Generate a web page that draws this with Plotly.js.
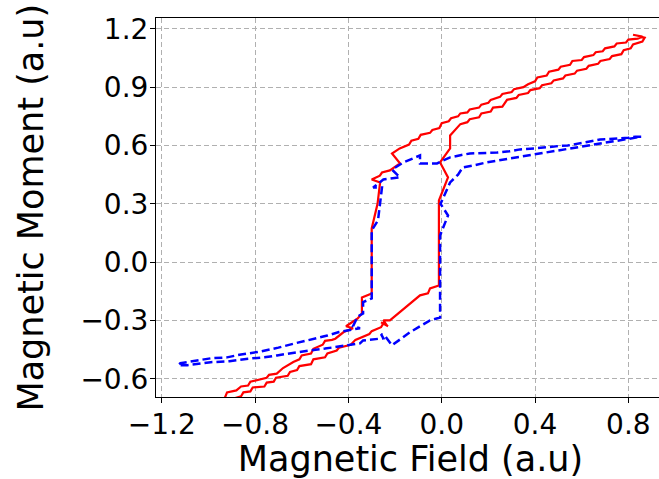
<!DOCTYPE html>
<html><head><meta charset="utf-8">
<script src="https://cdn.plot.ly/plotly-3.0.1.min.js"></script>
<style>html,body{margin:0;padding:0;overflow:hidden;background:#fff}#chart{width:670px;height:479px}</style>
</head><body><div id="chart"></div><script>
// Red (solid) loop: descending branch then ascending branch
const redX = [0.82,0.86,0.84,0.80,0.79,0.75,0.74,0.70,0.69,0.66,0.65,0.61,0.60,0.56,0.55,0.51,0.50,0.46,0.45,0.41,0.40,0.37,0.35,0.31,0.30,0.26,0.25,0.21,0.20,0.17,0.16,0.12,0.11,0.08,0.07,0.04,0.03,0.00,-0.01,-0.04,-0.05,-0.09,-0.10,-0.13,-0.14,-0.18,-0.213,-0.179,-0.222,-0.256,-0.265,-0.30,-0.264,-0.275,-0.30,-0.30,-0.342,-0.342,-0.36,-0.393,-0.41,-0.38,-0.42,-0.456,-0.47,-0.50,-0.51,-0.55,-0.56,-0.60,-0.61,-0.636,-0.66,-0.68,-0.707,-0.74,-0.75,-0.793,-0.82,-0.83,-0.86,-0.88,-0.92,-0.93,-0.97,-1.00,
  -0.97,-0.90,-0.86,-0.85,-0.82,-0.81,-0.76,-0.75,-0.72,-0.71,-0.66,-0.65,-0.62,-0.61,-0.56,-0.55,-0.50,-0.49,-0.45,-0.44,-0.39,-0.37,-0.31,-0.30,-0.26,-0.25,-0.23,-0.26,-0.235,-0.25,-0.222,-0.093,-0.07,-0.059,-0.05,-0.012,-0.012,0.027,-0.007,0.036,0.036,0.07,0.08,0.11,0.12,0.16,0.17,0.21,0.22,0.26,0.28,0.32,0.33,0.37,0.38,0.42,0.43,0.47,0.48,0.52,0.53,0.57,0.58,0.62,0.63,0.67,0.68,0.72,0.73,0.77,0.78,0.81,0.82,0.86,0.87,0.84];
const redY = [1.17,1.16,1.15,1.145,1.13,1.125,1.11,1.10,1.085,1.08,1.065,1.055,1.04,1.035,1.015,1.005,0.99,0.98,0.96,0.95,0.93,0.915,0.90,0.89,0.875,0.865,0.85,0.835,0.82,0.81,0.795,0.785,0.77,0.765,0.75,0.74,0.725,0.715,0.69,0.68,0.665,0.655,0.635,0.625,0.605,0.585,0.559,0.508,0.472,0.461,0.445,0.425,0.41,0.30,0.173,-0.162,-0.182,-0.264,-0.29,-0.315,-0.33,-0.34,-0.36,-0.394,-0.40,-0.405,-0.425,-0.446,-0.47,-0.48,-0.50,-0.514,-0.53,-0.545,-0.574,-0.58,-0.595,-0.609,-0.615,-0.635,-0.64,-0.66,-0.67,-0.70,-0.72,-0.76,
  -0.745,-0.705,-0.69,-0.67,-0.665,-0.645,-0.64,-0.62,-0.615,-0.595,-0.585,-0.565,-0.555,-0.535,-0.525,-0.50,-0.49,-0.47,-0.455,-0.44,-0.425,-0.40,-0.37,-0.355,-0.335,-0.315,-0.33,-0.31,-0.325,-0.30,-0.30,-0.171,-0.165,-0.161,-0.135,-0.12,0.317,0.436,0.513,0.585,0.652,0.693,0.71,0.72,0.735,0.745,0.765,0.775,0.795,0.80,0.835,0.845,0.86,0.87,0.885,0.895,0.91,0.92,0.935,0.945,0.96,0.97,0.985,0.995,1.01,1.02,1.035,1.045,1.06,1.07,1.09,1.10,1.12,1.135,1.155,1.165];
// Blue (dashed) loop: descending branch then ascending branch
const blueX = [0.855,0.83,0.80,0.76,0.72,0.679,0.64,0.58,0.54,0.50,0.451,0.40,0.336,0.29,0.237,0.18,0.121,0.08,0.036,-0.02,-0.07,-0.093,-0.093,-0.164,-0.213,-0.179,-0.25,-0.294,-0.256,-0.273,-0.30,-0.30,-0.337,-0.337,-0.36,-0.38,-0.35,-0.40,-0.44,-0.49,-0.56,-0.636,-0.70,-0.79,-0.86,-0.92,-0.99,-1.05,-1.12,-1.13,
  -1.09,-0.99,-0.91,-0.83,-0.76,-0.706,-0.63,-0.564,-0.50,-0.436,-0.35,-0.337,-0.25,-0.26,-0.24,-0.213,-0.136,-0.05,-0.007,-0.007,0.027,-0.005,0.036,0.07,0.09,0.134,0.193,0.26,0.322,0.39,0.451,0.52,0.58,0.65,0.708,0.76,0.807,0.855];
const blueY = [0.645,0.645,0.64,0.637,0.633,0.631,0.622,0.611,0.60,0.597,0.59,0.585,0.58,0.57,0.564,0.562,0.559,0.55,0.539,0.508,0.51,0.508,0.549,0.513,0.476,0.436,0.425,0.384,0.384,0.215,0.163,-0.187,-0.206,-0.264,-0.28,-0.33,-0.34,-0.35,-0.36,-0.378,-0.40,-0.42,-0.44,-0.463,-0.475,-0.49,-0.495,-0.505,-0.52,-0.53,
  -0.53,-0.515,-0.51,-0.497,-0.49,-0.48,-0.465,-0.454,-0.445,-0.434,-0.418,-0.403,-0.392,-0.37,-0.385,-0.428,-0.361,-0.30,-0.285,0.137,0.24,0.30,0.41,0.45,0.487,0.497,0.513,0.527,0.539,0.552,0.564,0.578,0.59,0.603,0.616,0.626,0.636,0.645];

const xTickVals = [-1.2,-0.8,-0.4,0.0,0.4,0.8];
const xTickText = ['\u22121.2','\u22120.8','\u22120.4','0.0','0.4','0.8'];
const yTickVals = [-0.6,-0.3,0.0,0.3,0.6,0.9,1.2];
const yTickText = ['\u22120.6','\u22120.3','0.0','0.3','0.6','0.9','1.2'];
const xTitle = 'Magnetic Field (a.u)';
const yTitle = 'Magnetic Moment (a.u)';

const traces = [
  {x: redX, y: redY, type:'scatter', mode:'lines', line:{color:'#ff0000', width:2.2}, hoverinfo:'skip'},
  {x: blueX, y: blueY, type:'scatter', mode:'lines', line:{color:'#0000ff', width:2.5, dash:'8px,4px'}, hoverinfo:'skip'}
];
const fam = 'DejaVu Sans, sans-serif';
const axisCommon = {
  showline:true, linecolor:'#000', linewidth:1, mirror:true,
  ticks:'outside', ticklen:5, tickwidth:1, tickcolor:'#000',
  showgrid:true, gridcolor:'#b0b0b0', gridwidth:1, griddash:'5px,3px',
  zeroline:false, automargin:false,
  tickfont:{family:fam, size:28, color:'#000'}
};
const layout = {
  width:670, height:479,
  margin:{l:156, r:5, t:18, b:82, pad:0},
  paper_bgcolor:'#fff', plot_bgcolor:'#fff',
  showlegend:false,
  xaxis: Object.assign({}, axisCommon, {
    range:[-1.2245, 0.957], tickmode:'array', tickvals:xTickVals, ticktext:xTickText,
    ticklabelstandoff:-3,
    title:{text:xTitle, font:{family:fam, size:35, color:'#000'}, standoff:2}
  }),
  yaxis: Object.assign({}, axisCommon, {
    range:[-0.694, 1.256], tickmode:'array', tickvals:yTickVals, ticktext:yTickText,
    ticklabelstandoff:-4
  }),
  annotations:[{
    text:yTitle, textangle:-90, xref:'paper', yref:'paper',
    x:-0.2475, y:0.5, xanchor:'center', yanchor:'middle', showarrow:false,
    font:{family:fam, size:35, color:'#000'}
  }]
};
Plotly.newPlot('chart', traces, layout, {staticPlot:true, displayModeBar:false});
</script></body></html>
